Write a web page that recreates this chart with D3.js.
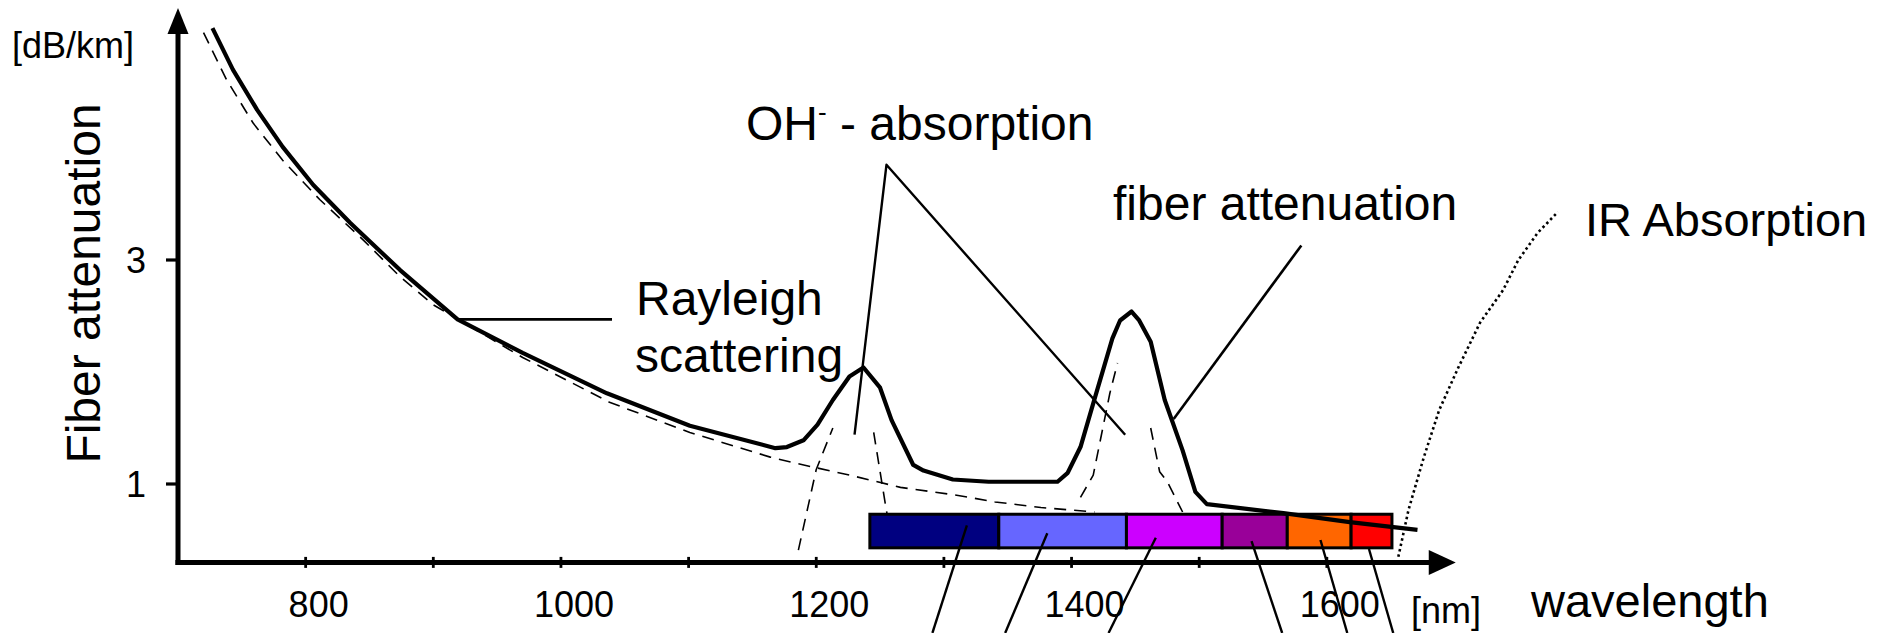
<!DOCTYPE html>
<html><head><meta charset="utf-8">
<script src="https://cdn.jsdelivr.net/npm/d3@7"></script>
<style>html,body{margin:0;padding:0;background:#fff;} svg{display:block;font-family:"Liberation Sans",Arial,Helvetica,sans-serif;}</style>
</head><body>
<svg id="c" width="1889" height="633"></svg>
<script>
// ---- data ----
const xTicks = [800, 900, 1000, 1100, 1200, 1300, 1400, 1500, 1600];
const xTickLabels = [800, 1000, 1200, 1400, 1600];
const yTicks = [1, 3];

// total fiber attenuation (solid)
const fiberWl  = [727,743,762,782,806,835,874,919,970,1036,1101,1168,1177,1190,1201,1213,1226,1237,1250,1259,1276,1284,1307,1335,1389,1397,1407,1417,1432,1438,1447,1453,1462,1473,1487,1497,1506,1566,1618,1671];
const fiberAtt = [5.07,4.70,4.34,4.01,3.67,3.33,2.91,2.47,2.17,1.81,1.52,1.32,1.33,1.39,1.53,1.75,1.96,2.04,1.86,1.57,1.17,1.12,1.04,1.02,1.02,1.10,1.33,1.72,2.30,2.46,2.54,2.46,2.27,1.75,1.30,0.93,0.82,0.74,0.66,0.59];

// Rayleigh scattering (dashed)
const rayWl  = [720,738,759,782,811,845,874,900,970,1038,1101,1164,1182,1226,1266,1310,1340,1376,1418];
const rayAtt = [5.03,4.61,4.22,3.89,3.54,3.18,2.85,2.60,2.13,1.73,1.46,1.24,1.19,1.08,0.97,0.90,0.84,0.79,0.75];

// OH- absorption peaks (dashed, visible flanks)
const oh1LeftWl  = [1186,1200,1213];
const oh1LeftAtt = [0.41,1.13,1.50];
const oh1RightWl  = [1245,1254,1260];
const oh1RightAtt = [1.46,0.83,0.43];
const oh2LeftWl  = [1407,1417,1422,1430,1436];
const oh2LeftAtt = [0.88,1.08,1.36,1.81,2.08];
const oh2RightWl  = [1462,1469,1475,1487];
const oh2RightAtt = [1.50,1.11,1.02,0.75];

// IR absorption (dotted)
const irWl  = [1656,1664,1676,1688,1703,1720,1738,1750,1765,1781];
const irAtt = [0.35,0.77,1.24,1.66,2.04,2.44,2.73,3.00,3.24,3.43];

// transmission bands
const bandEdges  = [1242,1343,1443,1518,1569,1619,1651];
const bandColors = ["#000080","#6666ff","#cc00ff","#990099","#ff6600","#ff0000"];
const bandTop = 0.73, bandBottom = 0.43;
// pointer lines from each band down out of the picture
const bandPtrTopWl  = [1318,1381,1466,1541,1595,1633];
const bandPtrTopAtt = [0.63,0.56,0.52,0.49,0.50,0.42];
const bandPtrEndWl  = [1291,1348,1429,1565,1616,1652];
const bandPtrEndAtt = [-0.33,-0.33,-0.33,-0.33,-0.33,-0.33];

// annotation leader lines
const ohLeaderWl  = [1230,1255,1442];
const ohLeaderAtt = [1.44,3.85,1.44];
const fiberLeaderWl  = [1580,1480];
const fiberLeaderAtt = [3.13,1.58];
const rayLeaderWl  = [919,1040];
const rayLeaderAtt = [2.47,2.47];

const axisBase = 0.3, axisTop = 5.25, axisEnd = 1701;

// ---- drawing ----
const svg = d3.select("#c");
const x = d3.scaleLinear().domain([700, 1700]).range([178, 1454.5]);
const y = d3.scaleLinear().domain([0, 5]).range([596, 36]);
const zip = (a, b) => a.map((v, i) => [v, b[i]]);
const line = d3.line().x(d => x(d[0])).y(d => y(d[1]));

function path(data, w, dash) {
  const p = svg.append("path").attr("d", line(data)).attr("fill", "none")
    .attr("stroke", "#000").attr("stroke-width", w)
    .attr("stroke-linejoin", "round");
  if (dash) p.attr("stroke-dasharray", dash);
  return p;
}

// dashed component curves
path(zip(rayWl, rayAtt), 1.6, "12,8");
path(zip(oh1LeftWl, oh1LeftAtt), 1.6, "12,8");
path(zip(oh1RightWl, oh1RightAtt), 1.6, "12,8");
path(zip(oh2LeftWl, oh2LeftAtt), 1.6, "12,8");
path(zip(oh2RightWl, oh2RightAtt), 1.6, "12,8");
// IR dotted
path(zip(irWl, irAtt), 2.6, "2.5,3");

// bands
bandColors.forEach((c, i) => {
  svg.append("rect")
    .attr("x", x(bandEdges[i])).attr("y", y(bandTop))
    .attr("width", x(bandEdges[i + 1]) - x(bandEdges[i]))
    .attr("height", y(bandBottom) - y(bandTop))
    .attr("fill", c).attr("stroke", "#000").attr("stroke-width", 3);
});

// main curve
path(zip(fiberWl, fiberAtt), 4.2);

// leaders
path(zip(ohLeaderWl, ohLeaderAtt), 2.4);
path(zip(fiberLeaderWl, fiberLeaderAtt), 2.6);
path(zip(rayLeaderWl, rayLeaderAtt), 2.6);
bandPtrTopWl.forEach((w, i) => {
  path([[w, bandPtrTopAtt[i]], [bandPtrEndWl[i], bandPtrEndAtt[i]]], 2.4);
});

// axes
const x0 = x(700), yb = y(axisBase);
svg.append("line").attr("x1", x0).attr("y1", y(axisTop) + 24).attr("x2", x0).attr("y2", yb + 2.5)
  .attr("stroke", "#000").attr("stroke-width", 5);
svg.append("line").attr("x1", x0 - 2.5).attr("y1", yb).attr("x2", x(axisEnd) - 24).attr("y2", yb)
  .attr("stroke", "#000").attr("stroke-width", 5);
const yt = y(axisTop);
svg.append("path").attr("d", `M${x0},${yt} L${x0 - 10.5},${yt + 26} L${x0 + 10.5},${yt + 26} Z`).attr("fill", "#000");
const xe = x(axisEnd);
svg.append("path").attr("d", `M${xe},${yb} L${xe - 27},${yb - 12.5} L${xe - 27},${yb + 12.5} Z`).attr("fill", "#000");

xTicks.forEach(t => {
  svg.append("line").attr("x1", x(t)).attr("x2", x(t)).attr("y1", yb - 5.5).attr("y2", yb + 5.5)
    .attr("stroke", "#000").attr("stroke-width", 2.8);
});
yTicks.forEach(t => {
  svg.append("line").attr("x1", x0 - 12).attr("x2", x0).attr("y1", y(t)).attr("y2", y(t))
    .attr("stroke", "#000").attr("stroke-width", 3.2);
  svg.append("text").attr("x", 146).attr("y", y(t) + 12.5).attr("text-anchor", "end")
    .attr("font-size", 36).text(t);
});
xTickLabels.forEach(t => {
  svg.append("text").attr("x", x(t) + 13).attr("y", 617).attr("text-anchor", "middle")
    .attr("font-size", 36).text(t);
});

// texts
const txt = (s, xx, yy, fs, anchor) => svg.append("text").attr("x", xx).attr("y", yy)
  .attr("font-size", fs).attr("text-anchor", anchor || "start").text(s);
txt("[dB/km]", 12, 58, 36);
txt("[nm]", 1411, 623, 36);
txt("wavelength", 1531, 617, 47);
txt("Rayleigh", 636, 315, 48);
txt("scattering", 635, 372, 48);
txt("fiber attenuation", 1113, 220, 48);
txt("IR Absorption", 1585, 236, 47);
svg.append("text").attr("transform", "translate(100,283.5) rotate(-90)")
  .attr("text-anchor", "middle").attr("font-size", 48).text("Fiber attenuation");
const oh = svg.append("text").attr("x", 746).attr("y", 140).attr("font-size", 48);
oh.append("tspan").text("OH");
oh.append("tspan").attr("font-size", 26).attr("dy", -19).text("-");
oh.append("tspan").attr("dy", 19).text(" - absorption");
</script>
</body></html>
